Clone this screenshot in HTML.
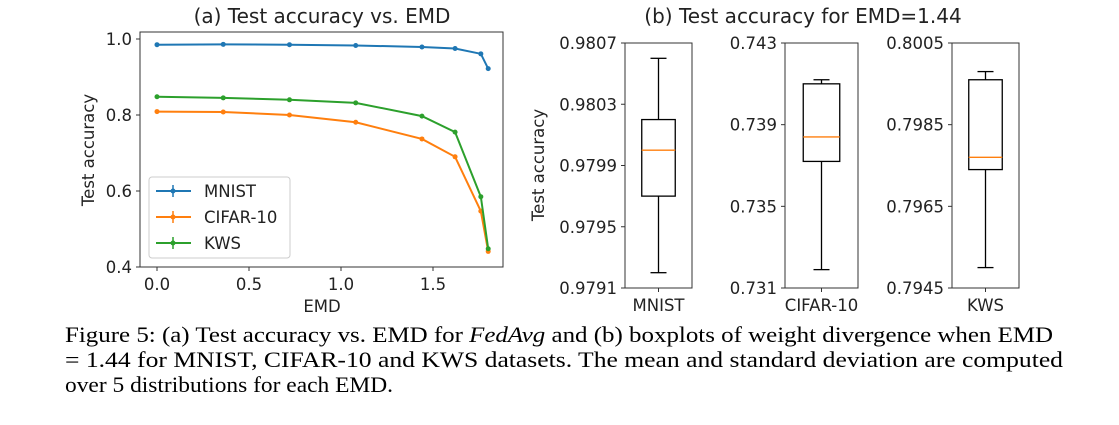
<!DOCTYPE html>
<html><head><meta charset="utf-8"><style>
html,body{margin:0;padding:0;background:#fff;width:1119px;height:425px;overflow:hidden}
svg text{font-family:"DejaVu Sans","Liberation Sans",sans-serif;fill:#222}
.cap{font-family:"Liberation Serif",serif;font-size:22px;fill:#000}
</style></head><body>
<svg id="fig" width="1119" height="425" xmlns="http://www.w3.org/2000/svg">
<g id="chartA"></g>
<g id="chartB"></g>
<text class="cap" x="65" y="342" textLength="988" lengthAdjust="spacingAndGlyphs">Figure 5: (a) Test accuracy vs. EMD for <tspan font-style="italic">FedAvg</tspan> and (b) boxplots of weight divergence when EMD</text>
<text class="cap" x="65" y="367" textLength="998" lengthAdjust="spacingAndGlyphs">= 1.44 for MNIST, CIFAR-10 and KWS datasets. The mean and standard deviation are computed</text>
<text class="cap" x="65" y="392" textLength="328" lengthAdjust="spacingAndGlyphs">over 5 distributions for each EMD.</text>
</svg>
<script>
const emd = [0, 0.36, 0.72, 1.08, 1.44, 1.62, 1.76, 1.80];
const mnist = [0.985, 0.986, 0.985, 0.983, 0.979, 0.975, 0.961, 0.922];
const cifar = [0.809, 0.808, 0.800, 0.781, 0.737, 0.690, 0.547, 0.441];
const kws = [0.848, 0.845, 0.840, 0.832, 0.797, 0.755, 0.585, 0.448];
const xTicks = [0.0, 0.5, 1.0, 1.5];
const xTickLabels = ["0.0", "0.5", "1.0", "1.5"];
const yTicks = [0.4, 0.6, 0.8, 1.0];
const yTickLabels = ["0.4", "0.6", "0.8", "1.0"];
const seriesNames = ["MNIST", "CIFAR-10", "KWS"];
const boxNames = ["MNIST", "CIFAR-10", "KWS"];
const boxLow = [0.97920, 0.7319, 0.7950];
const boxQ1 = [0.97970, 0.7372, 0.7974];
const boxMed = [0.98000, 0.7384, 0.7977];
const boxQ3 = [0.98020, 0.7410, 0.7996];
const boxHigh = [0.98060, 0.7412, 0.7998];
const boxTickLabels = [["0.9791","0.9795","0.9799","0.9803","0.9807"],["0.731","0.735","0.739","0.743"],["0.7945","0.7965","0.7985","0.8005"]];
const boxRanges = [[0.9791,0.9807],[0.731,0.743],[0.7945,0.8005]];

const NS="http://www.w3.org/2000/svg";
function mk(parent,tag,attrs,text){const e=document.createElementNS(NS,tag);for(const k in attrs)e.setAttribute(k,attrs[k]);if(text!==undefined)e.textContent=text;parent.appendChild(e);return e;}
const FS=16.5;

// Chart A
const A=document.getElementById('chartA');
const X=v=>157+v*184, Y=v=>267-(v-0.4)/0.2*76;
let t=mk(A,'text',{x:322,y:23,'font-size':20,'text-anchor':'middle'},'(a) Test accuracy vs. EMD');


let fr=mk(A,'rect',{x:140,y:32,width:363,height:235,fill:'none',stroke:'#333','stroke-width':1});


xTicks.forEach((v,i)=>{mk(A,'line',{x1:X(v),x2:X(v),y1:267,y2:271,stroke:'#333'});
 const l=mk(A,'text',{x:X(v),y:290,'font-size':FS,'text-anchor':'middle'},xTickLabels[i]);
 
 });
yTicks.forEach((v,i)=>{mk(A,'line',{x1:136,x2:140,y1:Y(v),y2:Y(v),stroke:'#333'});
 const l=mk(A,'text',{x:132,y:Y(v)+6,'font-size':FS,'text-anchor':'end'},yTickLabels[i]);
 
 });
t=mk(A,'text',{x:322,y:312,'font-size':FS,'text-anchor':'middle'},'EMD');


t=mk(A,'text',{x:0,y:0,'font-size':FS,'text-anchor':'middle',transform:'translate(94,150) rotate(-90)'},'Test accuracy');


const colors=['#1f77b4','#ff7f0e','#2ca02c'];
[mnist,cifar,kws].forEach((s,si)=>{
 const p=mk(A,'polyline',{points:s.map((v,i)=>X(emd[i])+','+Y(v)).join(' '),fill:'none',stroke:colors[si],'stroke-width':2});
 
 
 s.forEach((v,i)=>{const c=mk(A,'circle',{cx:X(emd[i]),cy:Y(v),r:2.5,fill:colors[si]});
  
  });
});
let lg=mk(A,'rect',{x:149,y:177,width:141,height:81,fill:'#fff','fill-opacity':0.85,stroke:'#ccc',rx:3});


seriesNames.forEach((n,i)=>{const y=191+i*26;
 mk(A,'line',{x1:156,x2:191,y1:y,y2:y,stroke:colors[i],'stroke-width':2});
 mk(A,'line',{x1:173,x2:173,y1:y-6,y2:y+6,stroke:colors[i],'stroke-width':1.5});
 mk(A,'circle',{cx:173,cy:y,r:2.5,fill:colors[i]});
 const l=mk(A,'text',{x:204,y:y+6,'font-size':FS},n);
 
 });

// Chart B
const B=document.getElementById('chartB');
t=mk(B,'text',{x:803,y:23,'font-size':20,'text-anchor':'middle'},'(b) Test accuracy for EMD=1.44');


t=mk(B,'text',{x:0,y:0,'font-size':FS,'text-anchor':'middle',transform:'translate(544,165) rotate(-90)'},'Test accuracy');


const panelX=[[625,692],[785,858],[952,1019]];
boxNames.forEach((n,i)=>{
 const [x0,x1]=panelX[i],[lo,hi]=boxRanges[i];
 const Yb=v=>288-(v-lo)/(hi-lo)*245;
 const f=mk(B,'rect',{x:x0,y:43,width:x1-x0,height:245,fill:'none',stroke:'#333'});
 
 
 const labs=boxTickLabels[i];
 labs.forEach((lab,k)=>{const v=lo+(hi-lo)*k/(labs.length-1);
  mk(B,'line',{x1:x0-4,x2:x0,y1:Yb(v),y2:Yb(v),stroke:'#333'});
  const l=mk(B,'text',{x:x0-8,y:Yb(v)+6,'font-size':FS,'text-anchor':'end'},lab);
  
  });
 const cx=(x0+x1)/2,w=(x1-x0)*0.5;
 mk(B,'line',{x1:cx,x2:cx,y1:Yb(boxHigh[i]),y2:Yb(boxQ3[i]),stroke:'#000','stroke-width':1.3});
 mk(B,'line',{x1:cx,x2:cx,y1:Yb(boxQ1[i]),y2:Yb(boxLow[i]),stroke:'#000','stroke-width':1.3});
 mk(B,'line',{x1:cx-8,x2:cx+8,y1:Yb(boxHigh[i]),y2:Yb(boxHigh[i]),stroke:'#000','stroke-width':1.3});
 mk(B,'line',{x1:cx-8,x2:cx+8,y1:Yb(boxLow[i]),y2:Yb(boxLow[i]),stroke:'#000','stroke-width':1.3});
 const b=mk(B,'rect',{x:cx-w/2,y:Yb(boxQ3[i]),width:w,height:Yb(boxQ1[i])-Yb(boxQ3[i]),fill:'none',stroke:'#000','stroke-width':1.3});
 
 
 const m=mk(B,'line',{x1:cx-w/2,x2:cx+w/2,y1:Yb(boxMed[i]),y2:Yb(boxMed[i]),stroke:'#ff7f0e','stroke-width':1.3});
 
 
 mk(B,'line',{x1:cx,x2:cx,y1:288,y2:292,stroke:'#333'});
 const l=mk(B,'text',{x:cx,y:311,'font-size':FS,'text-anchor':'middle'},n);
 
 
});
</script>
</body></html>
